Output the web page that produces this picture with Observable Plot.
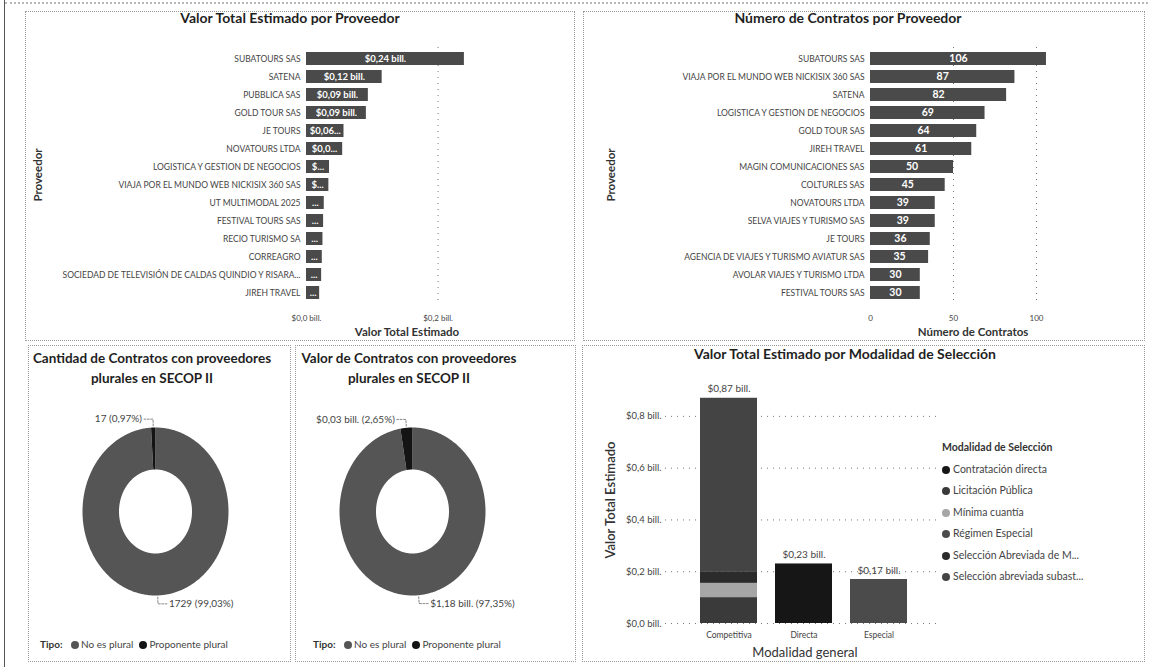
<!DOCTYPE html>
<html><head><meta charset="utf-8">
<script src="https://cdn.jsdelivr.net/npm/d3@7"></script>
<script src="https://cdn.jsdelivr.net/npm/@observablehq/plot@0.6"></script>
<style>
body{margin:0;background:#fff;font-family:Lato,"Open Sans",sans-serif;color:#252423;}
#root{position:relative;width:1150px;height:667px;overflow:hidden;background:#fff;}
.panel{position:absolute;border:1px dotted #9a9a9a;box-sizing:border-box;}
.abs{position:absolute;}
.title{position:absolute;font-weight:700;color:#1f1f1f;text-align:center;white-space:nowrap;font-size:14px;line-height:20px;}
.atitle{position:absolute;font-weight:700;color:#333;white-space:nowrap;font-size:11px;}
.rot{transform:translate(-50%,-50%) rotate(-90deg);}
.ctr{transform:translate(-50%,-50%);}
.legend{position:absolute;font-size:10px;color:#444;white-space:nowrap;}
.legend b{color:#333;}
.sw{display:inline-block;width:8px;height:8px;border-radius:50%;margin:0 2px 0 6px;vertical-align:-1px;}
.vleg{position:absolute;font-size:10.5px;color:#444;white-space:nowrap;line-height:21.5px;}
.vleg .sw{margin:0 3px 0 0;}
svg{overflow:visible;}
</style></head>
<body><div id="root"></div>
<script>
// ---------- DATA ----------
const provValor = ["SUBATOURS SAS","SATENA","PUBBLICA SAS","GOLD TOUR SAS","JE TOURS","NOVATOURS LTDA","LOGISTICA Y GESTION DE NEGOCIOS","VIAJA POR EL MUNDO WEB NICKISIX 360 SAS","UT MULTIMODAL 2025","FESTIVAL TOURS SAS","RECIO TURISMO SA","CORREAGRO","SOCIEDAD DE TELEVISIÓN DE CALDAS QUINDIO Y RISARA...","JIREH TRAVEL"];
const valorTotal = [0.24,0.115,0.094,0.091,0.057,0.055,0.035,0.034,0.027,0.026,0.025,0.024,0.023,0.02];
const valorEtiquetas = ["$0,24 bill.","$0,12 bill.","$0,09 bill.","$0,09 bill.","$0,06...","$0,0...","$...","$...","...","...","...","...","...","..."];
const valorTicks = [0,0.2];

const provContratos = ["SUBATOURS SAS","VIAJA POR EL MUNDO WEB NICKISIX 360 SAS","SATENA","LOGISTICA Y GESTION DE NEGOCIOS","GOLD TOUR SAS","JIREH TRAVEL","MAGIN COMUNICACIONES SAS","COLTURLES SAS","NOVATOURS LTDA","SELVA VIAJES Y TURISMO SAS","JE TOURS","AGENCIA DE VIAJES Y TURISMO AVIATUR SAS","AVOLAR VIAJES Y TURISMO LTDA","FESTIVAL TOURS SAS"];
const numContratos = [106,87,82,69,64,61,50,45,39,39,36,35,30,30];
const contratosTicks = [0,50,100];

const tipoCats = ["No es plural","Proponente plural"];
const tipoColors = ["#555555","#141414"];
const cantidadTipo = [1729,17];
const valorTipo = [1.18,0.0321];

const modalidadGeneral = ["Competitiva","Directa","Especial"];
const modalidadSeleccion = ["Contratación directa","Licitación Pública","Mínima cuantía","Régimen Especial","Selección Abreviada de M...","Selección abreviada subast..."];
const modalidadColors = ["#161616","#3a3a3a","#a6a6a6","#4b4b4b","#2b2b2b","#444444"];
const stackGeneral = ["Competitiva","Competitiva","Competitiva","Competitiva","Directa","Especial"];
const stackModalidad = ["Licitación Pública","Mínima cuantía","Selección Abreviada de M...","Selección abreviada subast...","Contratación directa","Régimen Especial"];
const stackValor = [0.10,0.055,0.045,0.67,0.23,0.17];
const modalidadTicks = [0,0.2,0.4,0.6,0.8];

// ---------- HELPERS ----------
const root = document.getElementById("root");
const fmtBill = (v, d) => "$" + v.toFixed(d).replace(".", ",") + " bill.";
const fmtPct = v => (v*100).toFixed(2).replace(".", ",") + "%";
function place(el, left, top){ el.style.position="absolute"; el.style.left=left+"px"; el.style.top=top+"px"; root.appendChild(el); return el; }
function div(cls, html, left, top, extra){ const d=document.createElement("div"); d.className=cls; d.innerHTML=html; d.style.left=left+"px"; d.style.top=top+"px"; if(extra) Object.assign(d.style, extra); root.appendChild(d); return d; }
const FONT = "Lato, 'Open Sans', sans-serif";

// outer frame / panels
div("abs","",4,0,{width:"1px",height:"667px",background:"#555"});
div("abs","",5,2,{width:"1143px",height:"0",borderTop:"2px dotted #b8b8b8"});
div("panel","",25,11,{width:"550px",height:"330px"});
div("panel","",583,11,{width:"562px",height:"330px"});
div("panel","",28,345,{width:"263px",height:"317px"});
div("panel","",295,345,{width:"281px",height:"317px"});
div("panel","",582,345,{width:"563px",height:"317px"});

// ---------- TOP LEFT ----------
const tlRows = provValor.map((p,i)=>({p, v:valorTotal[i], label:valorEtiquetas[i]}));
place(Plot.plot({
  width:550, height:310, marginLeft:281, marginRight:19, marginTop:17, marginBottom:35,
  style:{fontFamily:FONT, fontSize:"8.5px", color:"#444", background:"transparent"},
  x:{domain:[0,0.38], label:null},
  y:{domain:provValor, range:[17,275], padding:0.26, label:null},
  marks:[
    Plot.gridX(valorTicks.slice(1), {stroke:"#777", strokeOpacity:1, strokeDasharray:"1,5"}),
    Plot.barX(tlRows,{x:"v", y:"p", fill:"#4a4a4a"}),
    Plot.text(tlRows,{x:d=>d.v/2, y:"p", text:"label", fill:"white", fontWeight:"bold", fontSize:9.5}),
    Plot.axisY({tickSize:0, tickPadding:6, label:null, fontSize:8.5}),
    Plot.axisX({ticks:valorTicks, tickFormat:d=>fmtBill(d,1), tickSize:0, tickPadding:10, label:null, fontSize:8})
  ]
}), 25, 30);
div("title ctr","Valor Total Estimado por Proveedor",290,18);
div("atitle ctr","Valor Total Estimado",407,331,{fontSize:"11.5px"});
div("atitle rot","Proveedor",37,175,{fontSize:"11.5px"});

// ---------- TOP RIGHT ----------
const trRows = provContratos.map((p,i)=>({p, v:numContratos[i]}));
place(Plot.plot({
  width:560, height:310, marginLeft:287, marginRight:24, marginTop:17, marginBottom:35,
  style:{fontFamily:FONT, fontSize:"8.5px", color:"#444", background:"transparent"},
  x:{domain:[0,150], label:null},
  y:{domain:provContratos, range:[17,275], padding:0.26, label:null},
  marks:[
    Plot.gridX(contratosTicks.slice(1), {stroke:"#777", strokeOpacity:1, strokeDasharray:"1,5"}),
    Plot.barX(trRows,{x:"v", y:"p", fill:"#4a4a4a"}),
    Plot.text(trRows,{x:d=>d.v/2, y:"p", text:d=>String(d.v), fill:"white", fontWeight:"bold", fontSize:10.5}),
    Plot.axisY({tickSize:0, tickPadding:6, label:null, fontSize:8.5}),
    Plot.axisX({ticks:contratosTicks, tickSize:0, tickPadding:10, label:null, fontSize:8})
  ]
}), 583, 30);
div("title ctr","Número de Contratos por Proveedor",848,18);
div("atitle ctr","Número de Contratos",973,331,{fontSize:"11.5px"});
div("atitle rot","Proveedor",610,175,{fontSize:"11.5px"});

// ---------- DONUTS ----------
function donut(values, labelFn, left, titleLines, centerX, legendLeft){
  const total = d3.sum(values);
  const RX = 73, RY = 84, RI = 0.5;
  const pt = (a, r) => [Math.sin(a)*RX*r, Math.cos(a)*RY*r];
  let acc = 0;
  const slices = values.map((v,i)=>{ const a0 = acc/total*2*Math.PI; acc += v; const a1 = acc/total*2*Math.PI; return {cat:tipoCats[i], v, pct:v/total, a0, a1, mid:(a0+a1)/2}; });
  const features = slices.map(s=>{
    const n = Math.max(4, Math.ceil((s.a1-s.a0)/0.01));
    const outer = d3.range(n+1).map(k=>pt(s.a0+(s.a1-s.a0)*k/n, 1));
    const inner = d3.range(n+1).map(k=>pt(s.a1-(s.a1-s.a0)*k/n, RI));
    return {type:"Feature", properties:s, geometry:{type:"Polygon", coordinates:[[...outer, ...inner, outer[0]]]}};
  });
  const fc = {type:"FeatureCollection", features};
  // label anchors along the slice mid angle
  const labels = slices.map(s=>{
    const p1 = pt(s.mid, 1.02), p2 = pt(s.mid, 1.1);
    const dir = Math.sin(s.mid) < 0 ? -1 : 1;
    const p3 = [p2[0] + dir*9, p2[1]];
    return {s, dir, line:[p1,p2,p3], tx:p3[0]+dir*2, ty:p3[1], text:labelFn(s)};
  });
  const leaderPts = labels.flatMap((l,i)=>l.line.map(p=>({x:p[0], y:p[1], i})));
  const W = 262, H = 230;
  const cx = centerX - left, cy = 111;
  place(Plot.plot({
    width:W, height:H,
    marginLeft:cx-RX, marginRight:W-(cx+RX), marginTop:cy-RY, marginBottom:H-(cy+RY),
    style:{fontFamily:FONT, fontSize:"10px", color:"#444", background:"transparent"},
    projection:{type:"reflect-y", domain:fc, clip:false},
    color:{domain:tipoCats, range:tipoColors},
    marks:[
      Plot.geo(fc,{fill:d=>d.properties.cat, stroke:null}),
      Plot.line(leaderPts,{x:"x", y:"y", z:"i", stroke:"#888", strokeWidth:1, strokeDasharray:"2,1.5"}),
      Plot.text(labels.filter(l=>l.dir<0),{x:"tx", y:"ty", text:"text", textAnchor:"end", fill:"#444", fontSize:10}),
      Plot.text(labels.filter(l=>l.dir>0),{x:"tx", y:"ty", text:"text", textAnchor:"start", fill:"#444", fontSize:10})
    ]
  }), left, 400);
  div("title ctr", titleLines.join("<br>"), centerX-3, 368, {fontSize:"13.5px"});
  div("legend", "<b>Tipo:</b> " + tipoCats.map((c,i)=>`<span class="sw" style="background:${tipoColors[i]}"></span>${c}`).join(""), legendLeft, 638);
}
donut(cantidadTipo, s=>`${s.v} (${fmtPct(s.pct)})`, 28, ["Cantidad de Contratos con proveedores","plurales en SECOP II"], 155, 40);
donut(valorTipo, s=>`${fmtBill(s.v,2)} (${fmtPct(s.pct)})`, 296, ["Valor de Contratos con proveedores","plurales en SECOP II"], 412, 313);

// ---------- BOTTOM RIGHT ----------
const stackRows = stackGeneral.map((g,i)=>({g, m:stackModalidad[i], v:stackValor[i]}));
const totals = modalidadGeneral.map(g=>({g, total:d3.sum(stackRows.filter(r=>r.g===g), r=>r.v)}));
place(Plot.plot({
  width:563, height:290, marginLeft:83, marginRight:208, marginTop:20, marginBottom:37,
  style:{fontFamily:FONT, fontSize:"9px", color:"#444", background:"transparent"},
  x:{domain:modalidadGeneral, range:[98,344], padding:0.24, label:null},
  y:{domain:[0,0.9], label:null},
  color:{domain:modalidadSeleccion, range:modalidadColors},
  marks:[
    Plot.gridY(modalidadTicks, {stroke:"#777", strokeOpacity:1, strokeDasharray:"1,5"}),
    Plot.barY(stackRows, Plot.stackY({x:"g", y:"v", fill:"m"})),
    Plot.text(totals,{x:"g", y:"total", text:d=>fmtBill(d.total,2), dy:-9, fill:"#444", fontSize:10}),
    Plot.axisY({ticks:modalidadTicks, tickFormat:d=>fmtBill(d,1), tickSize:0, tickPadding:4, label:null, fontSize:9.5}),
    Plot.axisX({tickSize:0, tickPadding:8, label:null, fontSize:8.5})
  ]
}), 582, 370);
div("title ctr","Valor Total Estimado por Modalidad de Selección",845,354,{fontSize:"14px"});
div("atitle ctr","Modalidad general",805,652,{fontSize:"13px", fontWeight:"400"});
div("atitle rot","Valor Total Estimado",610,500,{fontSize:"13px", fontWeight:"600"});
div("vleg", `<div style="font-weight:700;color:#333;">Modalidad de Selección</div>` + modalidadSeleccion.map((m,i)=>`<div><span class="sw" style="background:${modalidadColors[i]}"></span>${m}</div>`).join(""), 942, 437);
</script></body></html>
